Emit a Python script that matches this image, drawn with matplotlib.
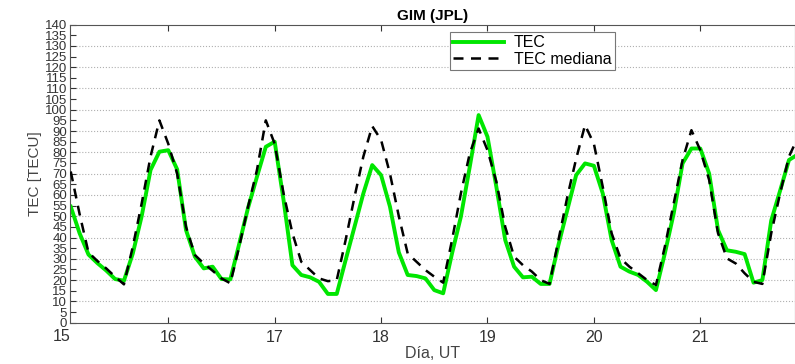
"""GIM (JPL) TEC vs median TEC, 2-hourly samples over days 15-21."""

import matplotlib
matplotlib.use("Agg")
import matplotlib.pyplot as plt
import numpy as np

plt.rcParams["font.family"] = ["Liberation Sans", "DejaVu Sans"]

# samples every 2 h, first one at 02 UT of day 15
T_START = 15.0 + 1.0 / 12.0
T_STEP = 1.0 / 12.0

tec = [
    54.5, 42, 32, 28, 24.5, 20.5, 19.7, 32.5, 50, 71.7, 80.3, 81,
    72, 43.5, 31, 25.5, 26.3, 20.5, 20.3, 37, 54, 68.5, 82.6, 85,
    57.6, 27, 22.4, 21.3, 19.2, 13.5, 13.5, 29.4, 45, 60.7, 74, 69.3,
    54.5, 33, 22.4, 21.9, 20.8, 15.3, 13.8, 32.5, 49.8, 73.2, 97.5, 87.3,
    63.8, 38.8, 26.3, 21.3, 21.6, 18.2, 18.2, 36.5, 52.9, 69.3, 74.8, 73.7,
    60.7, 38.8, 26.3, 24, 22.4, 19.2, 15.3, 32.5, 51.3, 74.8, 81.8, 81.8,
    70, 43.5, 34, 33.3, 32.2, 18.8, 20, 48, 62, 76.4, 79,
]
tec_mediana = [
    71, 51, 33, 29, 25.5, 21.6, 18, 35.7, 56, 78, 95, 84,
    70, 45, 31.8, 27.8, 24.4, 20.8, 18.5, 35.7, 54.5, 71.7, 95, 84,
    60.7, 42, 28.6, 24.7, 20.8, 19.5, 20, 38.8, 59, 78, 92.3, 85.8,
    70, 50, 32.5, 28.6, 24.7, 21.6, 18.8, 38.8, 60.7, 79.5, 91.2, 81,
    66.2, 45, 31, 27, 24, 20, 18.2, 38.8, 59, 77, 92.8, 84,
    63.8, 42, 30.2, 26.3, 23.2, 20, 17.7, 35.7, 56, 76.4, 90.4, 81,
    67, 42, 30.2, 27.8, 23.2, 19.2, 18.2, 42, 60.7, 78, 87,
]
x_ticks = [16, 17, 18, 19, 20, 21]
first_day = 15
y_ticks = list(range(0, 141, 5))


def main() -> None:
    t = T_START + T_STEP * np.arange(len(tec))

    fig = plt.figure(figsize=(7.95, 3.64), dpi=100)
    ax = fig.add_axes([0.088, 0.1135, 0.912, 0.819])

    for yv in range(10, 140, 10):
        ax.axhline(yv, color="#b0b0b0", linestyle=":", linewidth=0.8, zorder=0)

    ax.plot(t, tec, color="#00e600", linewidth=2.8, label="TEC", zorder=2)
    ax.plot(t, tec_mediana, color="black", linewidth=1.8, linestyle=(0, (4, 3)),
            label="TEC mediana", zorder=3)

    ax.set_xlim(15.076, 21.89)
    ax.set_ylim(0, 140)
    ax.set_xticks(x_ticks)
    ax.set_yticks(y_ticks)
    ax.tick_params(axis="both", direction="in", top=True, right=False,
                   length=4, colors="#333333", labelcolor="#333333")
    ax.tick_params(axis="x", labelsize=11.5, pad=5)
    ax.tick_params(axis="y", labelsize=9.5, pad=2)
    # day 15 label sits just left of the axis start
    ax.text(first_day, -0.022, str(first_day), transform=ax.get_xaxis_transform(),
            ha="center", va="top", fontsize=11.5, color="#333333", clip_on=False)
    for s in ax.spines.values():
        s.set_color("#555555")
        s.set_linewidth(0.8)

    ax.set_title("GIM (JPL)", fontsize=11, fontweight="bold", pad=3)
    ax.set_xlabel("Día, UT", fontsize=11.5, color="#444444", labelpad=1)
    ax.set_ylabel("TEC [TECU]", fontsize=11, color="#444444", labelpad=2)

    leg = ax.legend(loc="upper left", bbox_to_anchor=(0.524, 0.975), fontsize=11.5,
                    fancybox=False, framealpha=1, edgecolor="#777777",
                    handlelength=3.2, borderpad=0.2, labelspacing=0.1,
                    handletextpad=0.6, borderaxespad=0.0)
    leg.get_frame().set_linewidth(0.8)

    fig.savefig("out.png", dpi=100)
    plt.close(fig)


if __name__ == "__main__":
    main()
